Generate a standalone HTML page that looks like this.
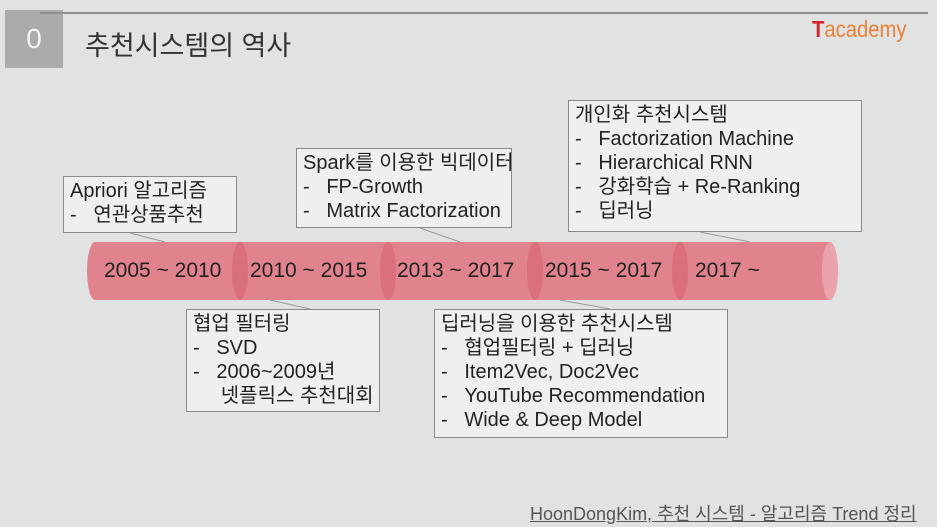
<!DOCTYPE html>
<html><head><meta charset="utf-8"><style>
body{margin:0;width:937px;height:527px;background:#e1e2e2;overflow:hidden;position:relative;font-family:"Liberation Sans","Noto Sans CJK KR",sans-serif;color:#222}
.box{position:absolute;background:#efefef;border:1px solid #8a8a8a;font-size:20px;line-height:24px;padding:2px 6px;box-sizing:border-box;white-space:nowrap;overflow:visible}
.seg{position:absolute;top:242px;height:58px;font-size:21px;line-height:58px;color:#222}
</style></head><body>
<div style="position:absolute;left:5px;top:10px;width:58px;height:58px;background:#a9aca9;color:#f4f4f4;font-size:28px;line-height:58px;text-align:center">0</div>
<div style="position:absolute;left:40px;top:12px;width:888px;height:2px;background:#8c9090"></div>
<div style="position:absolute;left:85px;top:24px;font-size:27px;color:#333">추천시스템의 역사</div>
<div style="position:absolute;left:812px;top:16px;font-size:23px;color:#e8803a;transform:scaleX(0.88);transform-origin:left"><span style="color:#d3262b;font-weight:bold">T</span>academy</div>
<svg width="937" height="527" style="position:absolute;left:0;top:0">
<g fill="none" stroke="#999" stroke-width="1">
<line x1="130" y1="233" x2="165" y2="242"/><line x1="420" y1="228" x2="460" y2="242"/><line x1="700" y1="232" x2="750" y2="242"/>
<line x1="270" y1="300" x2="310" y2="309"/><line x1="560" y1="300" x2="610" y2="309"/>
</g>
<g>
<rect x="95" y="242" width="735" height="58" fill="#e1838c"/>
<ellipse cx="95" cy="271" rx="8" ry="29" fill="#e1838c"/>
<ellipse cx="240" cy="271" rx="8" ry="29" fill="#d9707b"/>
<ellipse cx="388" cy="271" rx="8" ry="29" fill="#d9707b"/>
<ellipse cx="535" cy="271" rx="8" ry="29" fill="#d9707b"/>
<ellipse cx="680" cy="271" rx="8" ry="29" fill="#d9707b"/>
<ellipse cx="830" cy="271" rx="8" ry="29" fill="#eaa3aa"/>
</g>
</svg>
<div class="seg" style="left:104px">2005 ~ 2010</div>
<div class="seg" style="left:250px">2010 ~ 2015</div>
<div class="seg" style="left:397px">2013 ~ 2017</div>
<div class="seg" style="left:545px">2015 ~ 2017</div>
<div class="seg" style="left:695px">2017 ~</div>
<div class="box" style="left:63px;top:176px;width:174px;height:57px">Apriori 알고리즘<br>-&nbsp;&nbsp;&nbsp;연관상품추천</div>
<div class="box" style="left:296px;top:148px;width:216px;height:80px">Spark를 이용한 빅데이터<br>-&nbsp;&nbsp;&nbsp;FP-Growth<br>-&nbsp;&nbsp;&nbsp;Matrix Factorization</div>
<div class="box" style="left:568px;top:100px;width:294px;height:132px">개인화 추천시스템<br>-&nbsp;&nbsp;&nbsp;Factorization Machine<br>-&nbsp;&nbsp;&nbsp;Hierarchical RNN<br>-&nbsp;&nbsp;&nbsp;강화학습 + Re-Ranking<br>-&nbsp;&nbsp;&nbsp;딥러닝</div>
<div class="box" style="left:186px;top:309px;width:194px;height:103px">협업 필터링<br>-&nbsp;&nbsp;&nbsp;SVD<br>-&nbsp;&nbsp;&nbsp;2006~2009년<br>&nbsp;&nbsp;&nbsp;&nbsp;&nbsp;넷플릭스 추천대회</div>
<div class="box" style="left:434px;top:309px;width:294px;height:129px">딥러닝을 이용한 추천시스템<br>-&nbsp;&nbsp;&nbsp;협업필터링 + 딥러닝<br>-&nbsp;&nbsp;&nbsp;Item2Vec, Doc2Vec<br>-&nbsp;&nbsp;&nbsp;YouTube Recommendation<br>-&nbsp;&nbsp;&nbsp;Wide &amp; Deep Model</div>
<div style="position:absolute;left:530px;top:500px;font-size:18px;color:#555;text-decoration:underline;white-space:nowrap">HoonDongKim, 추천 시스템 - 알고리즘 Trend 정리</div>
</body></html>
